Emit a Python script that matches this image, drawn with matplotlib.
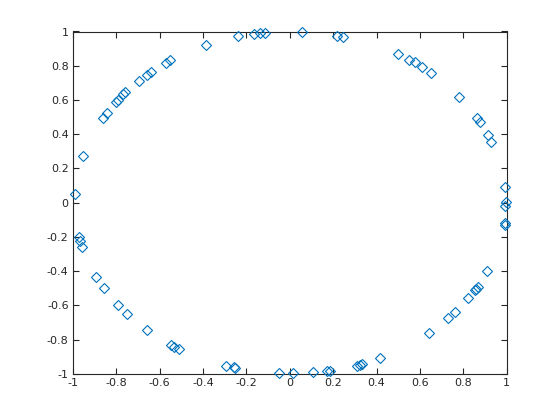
import numpy as np
import matplotlib
matplotlib.use("Agg")
import matplotlib.pyplot as plt

# points (x, y)
x_pts = [-0.989, -0.953, -0.861, -0.843, -0.803, -0.791, -0.767, -0.761, -0.696, -0.658,
         -0.638, -0.571, -0.550, -0.385, -0.239, -0.166, -0.138, -0.114,
         0.054, 0.219, 0.246, 0.497, 0.548, 0.576, 0.610, 0.649, 0.782, 0.863,
         0.878, 0.915, 0.928, 0.992,
         -0.971, -0.965, -0.959, -0.893, -0.857, -0.791, -0.750, -0.660, -0.546,
         -0.532, -0.512, -0.294, -0.259, -0.251, -0.051,
         0.017, 0.108, 0.170, 0.185, 0.311, 0.323, 0.335, 0.414, 0.640, 0.731,
         0.763, 0.823, 0.854, 0.859, 0.866, 0.910, 0.993, 0.991, 0.995, 0.994]
y_pts = [0.050, 0.275, 0.497, 0.526, 0.590, 0.602, 0.637, 0.644, 0.712, 0.747,
         0.763, 0.815, 0.835, 0.922, 0.971, 0.986, 0.990, 0.992,
         0.998, 0.975, 0.969, 0.870, 0.835, 0.819, 0.794, 0.759, 0.619, 0.497,
         0.473, 0.398, 0.357, 0.094,
         -0.201, -0.223, -0.261, -0.436, -0.500, -0.600, -0.652, -0.745, -0.831,
         -0.844, -0.856, -0.955, -0.961, -0.969, -0.994,
         -0.994, -0.988, -0.983, -0.983, -0.952, -0.948, -0.942, -0.908, -0.763, -0.675,
         -0.640, -0.559, -0.512, -0.502, -0.491, -0.401, -0.118, -0.130, 0.002, -0.018]

ticks = [-1, -0.8, -0.6, -0.4, -0.2, 0, 0.2, 0.4, 0.6, 0.8, 1]
tick_labels = ["-1", "-0.8", "-0.6", "-0.4", "-0.2", "0", "0.2", "0.4", "0.6", "0.8", "1"]

fig = plt.figure(figsize=(5.6, 4.2), dpi=100)
ax = fig.add_axes([0.13, 0.11, 0.775, 0.815])

ax.plot(x_pts, y_pts, linestyle="none", marker="D", markersize=4.8,
        markerfacecolor="none", markeredgecolor="#0072BD", markeredgewidth=0.8,
        clip_on=False, zorder=3)

ax.set_xlim(-1, 1)
ax.set_ylim(-1, 1)
ax.set_xticks(ticks)
ax.set_xticklabels(tick_labels)
ax.set_yticks(ticks)
ax.set_yticklabels(tick_labels)

for s in ax.spines.values():
    s.set_color("#262626")
    s.set_linewidth(0.8)
ax.tick_params(direction="in", top=True, right=True, length=4, width=0.8,
               color="#262626", labelcolor="#262626", labelsize=8, pad=3)

fig.savefig("out.png", dpi=100)
